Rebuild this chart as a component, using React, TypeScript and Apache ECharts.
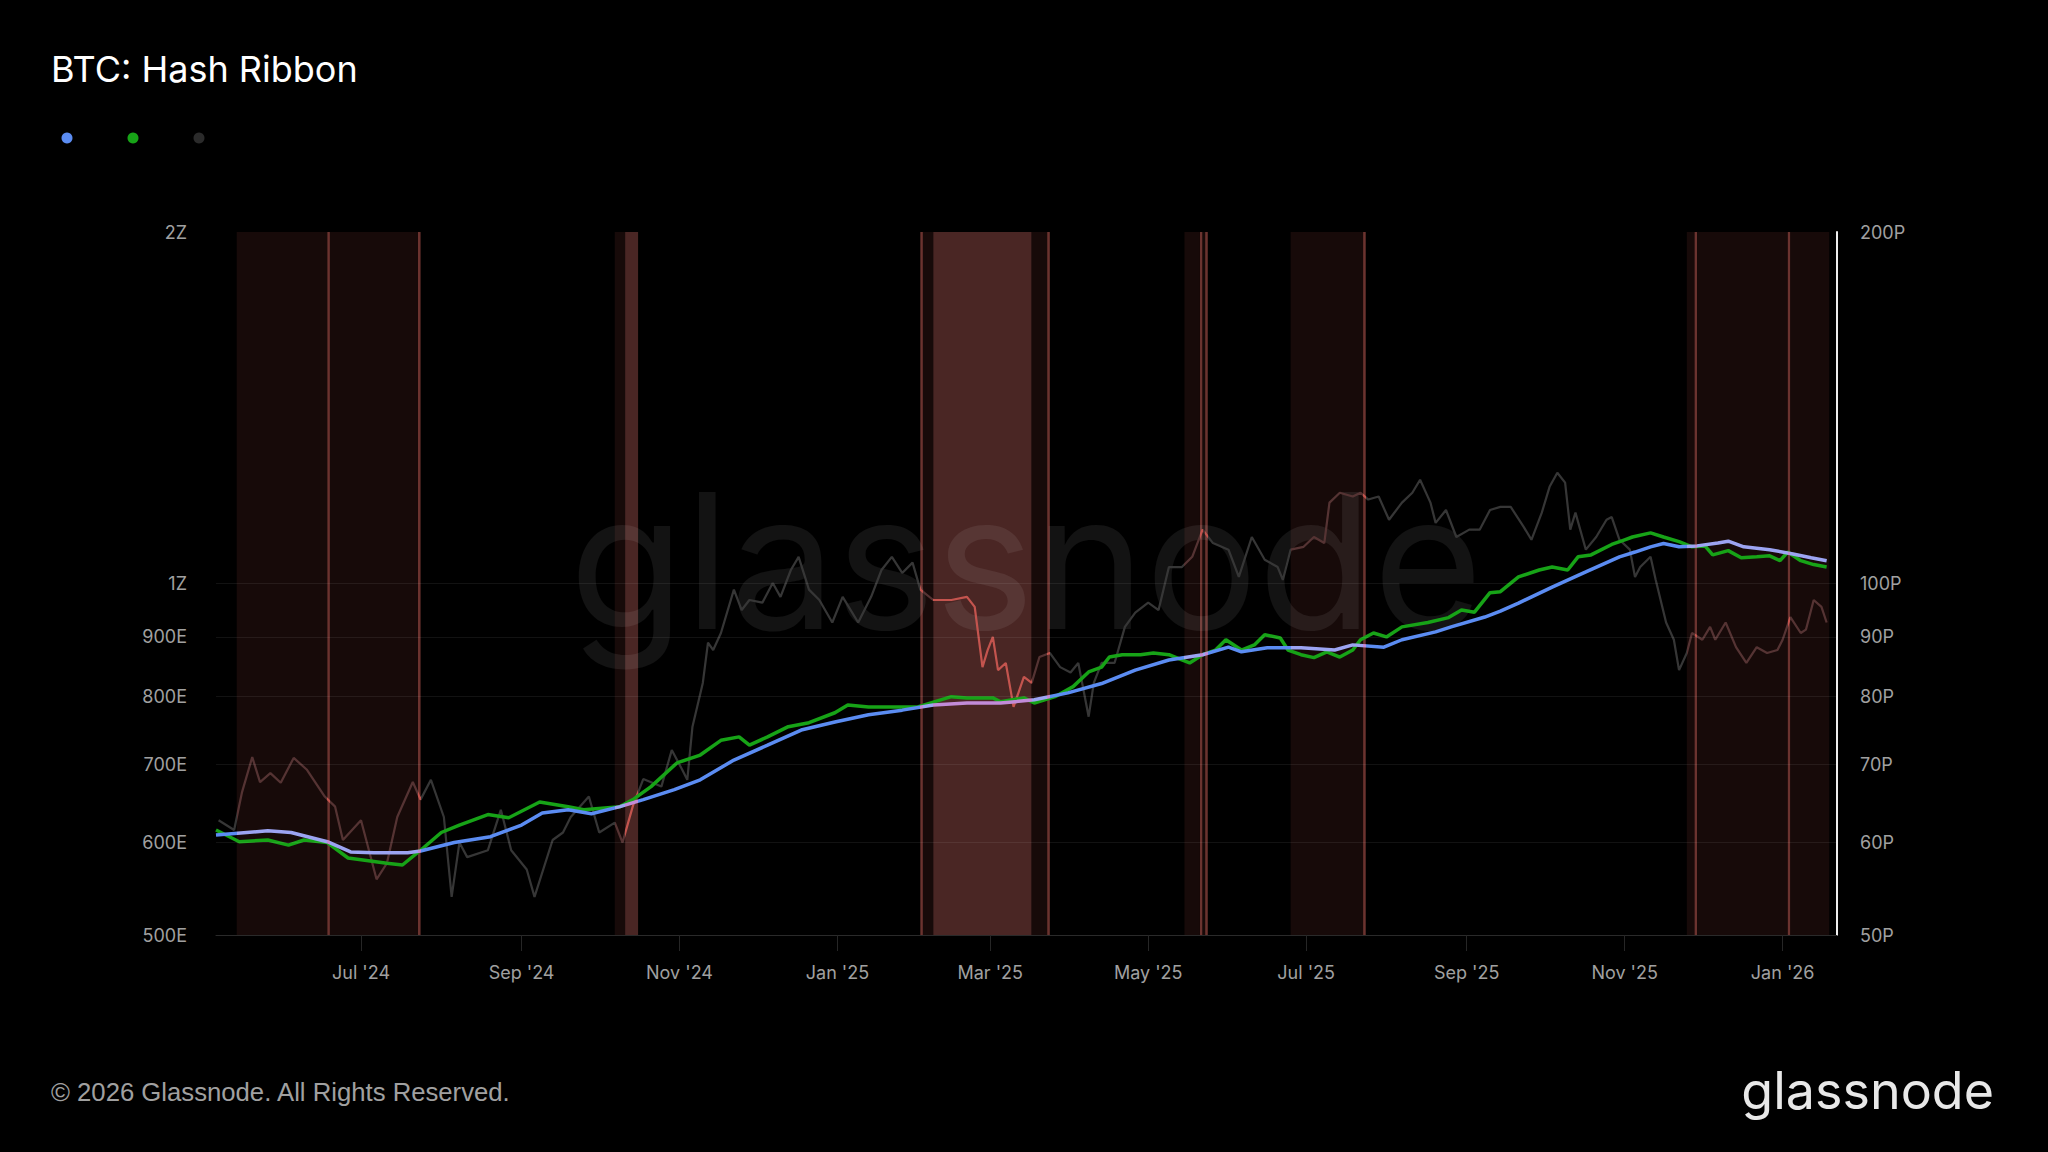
import React, { useEffect, useRef } from "react";
import * as echarts from "echarts";

// ---------- DATA ----------
// Hash rate, 60-day moving average (EH/s)
const hashRate60dMA: [string, number][] = [
  ["2024-05-06", 609], ["2024-05-26", 614], ["2024-06-04", 612], ["2024-06-18", 601],
  ["2024-06-27", 589], ["2024-07-06", 588], ["2024-07-19", 588], ["2024-07-24", 590],
  ["2024-08-06", 600], ["2024-08-20", 607], ["2024-09-01", 621], ["2024-09-09", 636],
  ["2024-09-19", 640], ["2024-09-28", 635], ["2024-10-09", 644], ["2024-10-18", 653],
  ["2024-10-30", 666], ["2024-11-09", 679], ["2024-11-22", 706], ["2024-12-05", 727],
  ["2024-12-18", 749], ["2024-12-31", 761], ["2025-01-13", 772], ["2025-01-26", 779],
  ["2025-02-07", 787], ["2025-02-20", 790], ["2025-03-05", 790], ["2025-03-18", 795],
  ["2025-03-31", 806], ["2025-04-13", 821], ["2025-04-26", 843], ["2025-05-09", 860],
  ["2025-05-22", 869], ["2025-06-01", 882], ["2025-06-06", 874], ["2025-06-16", 881],
  ["2025-06-29", 881], ["2025-07-12", 877], ["2025-07-19", 886], ["2025-07-31", 882],
  ["2025-08-07", 895], ["2025-08-20", 909], ["2025-08-26", 918], ["2025-09-08", 936],
  ["2025-09-14", 947], ["2025-09-21", 962], ["2025-10-04", 993], ["2025-10-17", 1023],
  ["2025-10-30", 1054], ["2025-11-05", 1064], ["2025-11-11", 1075], ["2025-11-16", 1082],
  ["2025-11-22", 1075], ["2025-11-29", 1077], ["2025-12-07", 1083], ["2025-12-11", 1087],
  ["2025-12-17", 1075], ["2025-12-27", 1069], ["2026-01-05", 1060], ["2026-01-12", 1052],
  ["2026-01-18", 1046],
];

// Hash rate, 30-day moving average (EH/s)
const hashRate30dMA: [string, number][] = [
  ["2024-05-06", 615], ["2024-05-15", 601], ["2024-05-26", 603], ["2024-06-03", 597],
  ["2024-06-09", 603], ["2024-06-18", 600], ["2024-06-26", 582], ["2024-07-06", 578],
  ["2024-07-11", 576], ["2024-07-17", 574], ["2024-07-24", 591], ["2024-08-01", 612],
  ["2024-08-08", 621], ["2024-08-19", 634], ["2024-08-27", 630], ["2024-09-08", 650],
  ["2024-09-19", 644], ["2024-09-25", 640], ["2024-10-09", 644], ["2024-10-14", 653],
  ["2024-10-21", 670], ["2024-10-31", 702], ["2024-11-09", 713], ["2024-11-17", 734],
  ["2024-11-24", 739], ["2024-11-28", 727], ["2024-12-05", 739], ["2024-12-13", 754],
  ["2024-12-21", 760], ["2024-12-31", 775], ["2025-01-05", 787], ["2025-01-13", 784],
  ["2025-01-26", 784], ["2025-02-01", 784], ["2025-02-14", 800], ["2025-02-20", 798],
  ["2025-03-02", 798], ["2025-03-05", 792], ["2025-03-14", 798], ["2025-03-18", 790],
  ["2025-03-26", 800], ["2025-04-02", 816], ["2025-04-08", 840], ["2025-04-13", 848],
  ["2025-04-16", 865], ["2025-04-21", 869], ["2025-04-28", 869], ["2025-05-03", 872],
  ["2025-05-09", 869], ["2025-05-14", 860], ["2025-05-17", 855], ["2025-05-22", 869],
  ["2025-05-27", 877], ["2025-05-31", 895], ["2025-06-06", 877], ["2025-06-11", 886],
  ["2025-06-15", 904], ["2025-06-21", 898], ["2025-06-24", 877], ["2025-06-29", 869],
  ["2025-07-04", 864], ["2025-07-09", 874], ["2025-07-14", 865], ["2025-07-19", 877],
  ["2025-07-22", 895], ["2025-07-27", 907], ["2025-08-01", 900], ["2025-08-07", 918],
  ["2025-08-17", 926], ["2025-08-25", 935], ["2025-08-30", 949], ["2025-09-04", 945],
  ["2025-09-10", 982], ["2025-09-14", 984], ["2025-09-21", 1013], ["2025-09-29", 1027],
  ["2025-10-04", 1033], ["2025-10-10", 1027], ["2025-10-14", 1054], ["2025-10-19", 1058],
  ["2025-10-27", 1080], ["2025-11-01", 1090], ["2025-11-04", 1096], ["2025-11-11", 1105],
  ["2025-11-16", 1096], ["2025-11-22", 1086], ["2025-11-27", 1075], ["2025-12-02", 1077],
  ["2025-12-05", 1058], ["2025-12-11", 1067], ["2025-12-16", 1052], ["2025-12-22", 1054],
  ["2025-12-27", 1056], ["2025-12-31", 1046], ["2026-01-03", 1064], ["2026-01-08", 1046],
  ["2026-01-13", 1038], ["2026-01-18", 1033],
];

// BTC price (USD)
const btcPrice: [string, number][] = [
  ["2024-05-07", 62700], ["2024-05-13", 61500], ["2024-05-16", 66200], ["2024-05-20", 71000],
  ["2024-05-23", 67600], ["2024-05-27", 68800], ["2024-05-31", 67500], ["2024-06-05", 70900],
  ["2024-06-10", 69300], ["2024-06-17", 65700], ["2024-06-21", 64400], ["2024-06-24", 60300],
  ["2024-07-01", 62700], ["2024-07-07", 55800], ["2024-07-11", 57600], ["2024-07-15", 63100],
  ["2024-07-21", 67600], ["2024-07-24", 65300], ["2024-07-28", 67900], ["2024-08-02", 63100],
  ["2024-08-05", 53900], ["2024-08-08", 60000], ["2024-08-11", 58300], ["2024-08-19", 59100],
  ["2024-08-24", 64000], ["2024-08-28", 59100], ["2024-09-03", 56900], ["2024-09-06", 53900],
  ["2024-09-13", 60300], ["2024-09-17", 61200], ["2024-09-20", 63100], ["2024-09-27", 65700],
  ["2024-10-01", 61200], ["2024-10-07", 62400], ["2024-10-10", 60000], ["2024-10-14", 64500],
  ["2024-10-18", 68000], ["2024-10-25", 67000], ["2024-10-29", 72000], ["2024-11-02", 69300],
  ["2024-11-04", 67900], ["2024-11-06", 75400], ["2024-11-10", 82200], ["2024-11-12", 89000],
  ["2024-11-14", 87700], ["2024-11-17", 90700], ["2024-11-22", 98800], ["2024-11-25", 94900],
  ["2024-11-28", 96800], ["2024-12-03", 96300], ["2024-12-07", 100100], ["2024-12-10", 97400],
  ["2024-12-14", 102700], ["2024-12-17", 105400], ["2024-12-21", 98800], ["2024-12-25", 96800],
  ["2024-12-30", 92600], ["2025-01-03", 97400], ["2025-01-09", 92600], ["2025-01-14", 97400],
  ["2025-01-18", 102700], ["2025-01-22", 105400], ["2025-01-26", 102100], ["2025-01-30", 104200],
  ["2025-02-02", 98800], ["2025-02-07", 96800], ["2025-02-14", 96800], ["2025-02-20", 97400],
  ["2025-02-23", 95500], ["2025-02-26", 84800], ["2025-02-28", 87700], ["2025-03-02", 90000],
  ["2025-03-04", 84300], ["2025-03-07", 85500], ["2025-03-10", 78400], ["2025-03-14", 83200],
  ["2025-03-17", 82200], ["2025-03-20", 86500], ["2025-03-24", 87200], ["2025-03-28", 84800],
  ["2025-04-01", 83900], ["2025-04-04", 85500], ["2025-04-08", 76900], ["2025-04-10", 82200],
  ["2025-04-13", 85500], ["2025-04-18", 85500], ["2025-04-22", 91800], ["2025-04-26", 94400],
  ["2025-05-01", 96300], ["2025-05-05", 94900], ["2025-05-09", 103300], ["2025-05-14", 103300],
  ["2025-05-18", 105400], ["2025-05-22", 111200], ["2025-05-26", 108300], ["2025-06-01", 106900],
  ["2025-06-05", 101300], ["2025-06-10", 109600], ["2025-06-15", 104800], ["2025-06-20", 103300],
  ["2025-06-22", 100700], ["2025-06-25", 106900], ["2025-06-30", 107500], ["2025-07-04", 109600],
  ["2025-07-08", 108300], ["2025-07-10", 117300], ["2025-07-14", 119600], ["2025-07-19", 118700],
  ["2025-07-22", 119600], ["2025-07-25", 118000], ["2025-07-29", 118700], ["2025-08-02", 113400],
  ["2025-08-07", 117300], ["2025-08-11", 119600], ["2025-08-14", 122700], ["2025-08-18", 117300],
  ["2025-08-20", 112700], ["2025-08-24", 115600], ["2025-08-28", 109600], ["2025-09-02", 111200],
  ["2025-09-06", 111200], ["2025-09-10", 115600], ["2025-09-14", 116300], ["2025-09-18", 116300],
  ["2025-09-23", 111800], ["2025-09-26", 109000], ["2025-09-30", 115000], ["2025-10-03", 121000],
  ["2025-10-06", 124400], ["2025-10-09", 122000], ["2025-10-11", 111200], ["2025-10-13", 115000],
  ["2025-10-17", 106900], ["2025-10-21", 109600], ["2025-10-25", 113400], ["2025-10-27", 114000],
  ["2025-10-30", 109000], ["2025-11-03", 106900], ["2025-11-05", 101300], ["2025-11-07", 103300],
  ["2025-11-11", 105400], ["2025-11-13", 100700], ["2025-11-17", 92600], ["2025-11-20", 89500],
  ["2025-11-22", 84300], ["2025-11-25", 87200], ["2025-11-27", 90700], ["2025-12-01", 89500],
  ["2025-12-04", 91800], ["2025-12-06", 89500], ["2025-12-10", 92600], ["2025-12-14", 88200],
  ["2025-12-18", 85500], ["2025-12-22", 88200], ["2025-12-26", 87200], ["2025-12-30", 87700],
  ["2026-01-01", 89500], ["2026-01-04", 93600], ["2026-01-08", 90700], ["2026-01-10", 91300],
  ["2026-01-13", 96800], ["2026-01-16", 95500], ["2026-01-18", 92600],
];

// Hash ribbon signal periods: [start, end, kind] (0 = capitulation, 1 = strong, 2 = edge)
const ribbonBands: [string, string, number][] = [
  ["2024-05-14", "2024-06-18", 0], ["2024-06-18", "2024-06-19", 2],
  ["2024-06-19", "2024-07-23", 0], ["2024-07-23", "2024-07-24", 2],
  ["2024-10-07", "2024-10-11", 0], ["2024-10-11", "2024-10-16", 1],
  ["2025-02-02", "2025-02-03", 2], ["2025-02-03", "2025-02-07", 0],
  ["2025-02-07", "2025-03-17", 1], ["2025-03-17", "2025-03-23", 0],
  ["2025-03-23", "2025-03-24", 2], ["2025-05-15", "2025-05-21", 0],
  ["2025-05-21", "2025-05-22", 2], ["2025-05-22", "2025-05-23", 0],
  ["2025-05-23", "2025-05-24", 2], ["2025-06-25", "2025-07-23", 0],
  ["2025-07-23", "2025-07-24", 2], ["2025-11-25", "2025-11-28", 0],
  ["2025-11-28", "2025-11-29", 2], ["2025-11-29", "2026-01-03", 0],
  ["2026-01-03", "2026-01-04", 2], ["2026-01-04", "2026-01-19", 0],
];

const xRange: [string, string] = ["2024-05-06", "2026-01-22"];
const xTickDates = [
  "2024-07-01", "2024-09-01", "2024-11-01", "2025-01-01", "2025-03-01",
  "2025-05-01", "2025-07-01", "2025-09-01", "2025-11-01", "2026-01-01",
];
const leftTicks = [500, 600, 700, 800, 900, 1000, 2000];
const rightTicks = [50000, 60000, 70000, 80000, 90000, 100000, 200000];
const gridLineValues = [600, 700, 800, 900, 1000];
const MONTHS = ["Jan", "Feb", "Mar", "Apr", "May", "Jun", "Jul", "Aug", "Sep", "Oct", "Nov", "Dec"];

// ---------- STYLE ----------
const BAND_COLORS = ["#170a09", "#4a2624", "#6b332f"];
const PRICE_COLORS = ["#553333", "#c4544e", "#c4544e"];
const BLUE_COLORS = ["#9ca4f2", "#c28bd8", "#c28bd8"];
const BLUE = "#5b8cf2";
const GREEN = "#17a317";
const PRICE_GRAY = "#363636";

const ts = (s: string) => {
  const [y, m, d] = s.split("-").map(Number);
  return new Date(y, m - 1, d).getTime();
};

function buildOption(): any {
  const toSeries = (arr: [string, number][]) => arr.map(([d, v]) => [ts(d), v]);
  const pieces = (colors: string[]) =>
    ribbonBands.map(([s, e, k]) => ({ gte: ts(s), lt: ts(e), color: colors[k] }));
  const labelFont = { fontFamily: "Inter", fontSize: 18, color: "#a0a0a0" };

  return {
    animation: false,
    backgroundColor: "#000000",
    grid: { left: 216, right: 211, top: 232, bottom: 217, containLabel: false },
    xAxis: {
      type: "value",
      min: ts(xRange[0]),
      max: ts(xRange[1]),
      axisLine: { show: true, onZero: false, lineStyle: { color: "#2a2a2a", width: 1 } },
      axisTick: {
        show: true,
        customValues: xTickDates.map(ts),
        length: 16,
        lineStyle: { color: "#262626" },
      },
      axisLabel: {
        ...labelFont,
        margin: 28,
        customValues: xTickDates.map(ts),
        formatter: (v: number) => {
          const d = new Date(v);
          return MONTHS[d.getMonth()] + " '" + String(d.getFullYear()).slice(2);
        },
      },
      splitLine: { show: false },
    },
    yAxis: [
      {
        type: "log",
        logBase: 10,
        min: 500,
        max: 2000,
        position: "left",
        axisLine: { show: false },
        axisTick: { show: false },
        splitLine: { show: false },
        axisLabel: {
          ...labelFont,
          margin: 29,
          customValues: leftTicks,
          formatter: (v: number) => {
            const r = Math.round(v);
            return r >= 1000 ? Math.round(r / 1000) + "Z" : r + "E";
          },
        },
      },
      {
        type: "log",
        logBase: 10,
        min: 50000,
        max: 200000,
        position: "right",
        axisLine: { show: true, lineStyle: { color: "#eeeeee", width: 2 } },
        axisTick: { show: false },
        splitLine: { show: false },
        axisLabel: {
          ...labelFont,
          margin: 23,
          customValues: rightTicks,
          formatter: (v: number) => Math.round(v / 1000) + "P",
        },
      },
    ],
    visualMap: [
      {
        type: "piecewise",
        show: false,
        dimension: 0,
        seriesIndex: 2,
        pieces: pieces(PRICE_COLORS),
        outOfRange: { color: PRICE_GRAY },
      },
      {
        type: "piecewise",
        show: false,
        dimension: 0,
        seriesIndex: 4,
        pieces: pieces(BLUE_COLORS),
        outOfRange: { color: BLUE },
      },
    ],
    series: [
      {
        name: "bands",
        type: "line",
        z: 1,
        data: [[ts(xRange[0]), 600]],
        showSymbol: false,
        lineStyle: { opacity: 0 },
        silent: true,
        markArea: {
          silent: true,
          data: ribbonBands.map(([s, e, k]) => [
            { xAxis: ts(s), itemStyle: { color: BAND_COLORS[k] } },
            { xAxis: ts(e) },
          ]),
        },
      },
      {
        name: "grid",
        type: "line",
        z: 2,
        data: [[ts(xRange[0]), 600]],
        showSymbol: false,
        lineStyle: { opacity: 0 },
        silent: true,
        markLine: {
          silent: true,
          symbol: ["none", "none"],
          label: { show: false },
          lineStyle: { color: "rgba(255,255,255,0.07)", type: "solid", width: 1 },
          data: gridLineValues.map((v) => ({ yAxis: v })),
        },
      },
      {
        name: "Price",
        type: "line",
        yAxisIndex: 1,
        z: 3,
        data: toSeries(btcPrice),
        showSymbol: false,
        lineStyle: { width: 2.2 },
        silent: true,
      },
      {
        name: "Hash Rate 30d MA",
        type: "line",
        z: 4,
        data: toSeries(hashRate30dMA),
        showSymbol: false,
        lineStyle: { width: 3.5, color: GREEN },
        itemStyle: { color: GREEN },
        silent: true,
      },
      {
        name: "Hash Rate 60d MA",
        type: "line",
        z: 5,
        data: toSeries(hashRate60dMA),
        showSymbol: false,
        lineStyle: { width: 3.5 },
        silent: true,
      },
    ],
    graphic: [
      {
        type: "text",
        z: 2,
        silent: true,
        x: 1026,
        y: 560,
        style: {
          text: "glassnode",
          fill: "rgba(255,255,255,0.075)",
          font: "400 188px Inter",
          align: "center",
          verticalAlign: "middle",
        },
      },
      {
        type: "text",
        z: 10,
        x: 51,
        y: 69,
        style: {
          text: "BTC: Hash Ribbon",
          fill: "#ffffff",
          font: "400 36px Inter",
          align: "left",
          verticalAlign: "middle",
        },
      },
      { type: "circle", z: 10, shape: { cx: 67, cy: 138, r: 5.5 }, style: { fill: BLUE } },
      { type: "circle", z: 10, shape: { cx: 133, cy: 138, r: 5.5 }, style: { fill: GREEN } },
      { type: "circle", z: 10, shape: { cx: 199, cy: 138, r: 5.5 }, style: { fill: "#2b2b2b" } },
      {
        type: "text",
        z: 10,
        x: 51,
        y: 1092,
        style: {
          text: "© 2026 Glassnode. All Rights Reserved.",
          fill: "#a0a0a0",
          font: "400 25.7px 'Liberation Sans'",
          align: "left",
          verticalAlign: "middle",
        },
      },
      {
        type: "text",
        z: 10,
        x: 1994,
        y: 1090,
        style: {
          text: "glassnode",
          fill: "#e8e8e8",
          font: "400 52px Inter",
          align: "right",
          verticalAlign: "middle",
        },
      },
    ],
  };
}

export default function App() {
  const ref = useRef<HTMLDivElement>(null);
  useEffect(() => {
    document.body.style.margin = "0";
    document.body.style.background = "#000";
    const chart = echarts.init(ref.current!, null, { renderer: "svg" });
    chart.setOption(buildOption());
    return () => chart.dispose();
  }, []);
  return <div ref={ref} style={{ width: 2048, height: 1152, background: "#000" }} />;
}
